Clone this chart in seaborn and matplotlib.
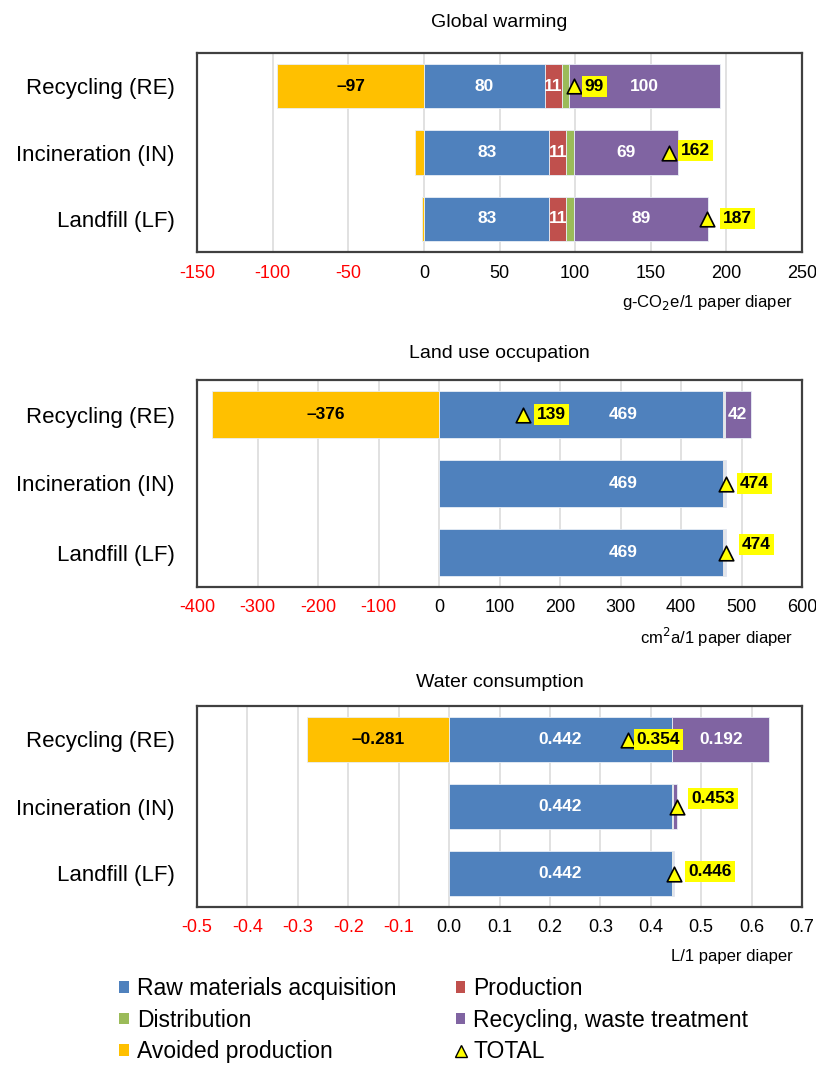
import numpy as np
import pandas as pd
import matplotlib
matplotlib.use("Agg")
import matplotlib.pyplot as plt
import seaborn as sns
from matplotlib.patches import Patch
from matplotlib.lines import Line2D

# ---------------------------------------------------------------- data
scenarios = ["Recycling (RE)", "Incineration (IN)", "Landfill (LF)"]
stages = ["Raw materials acquisition", "Production", "Distribution",
          "Recycling, waste treatment", "Avoided production"]

# Global warming (g-CO2e / 1 paper diaper)
gw_raw = [80, 83, 83]
gw_production = [11, 11, 11]
gw_distribution = [5, 5, 5]
gw_end_of_life = [100, 69, 89]
gw_avoided = [-97, -6, -1]
gw_total = [99, 162, 187]
gw_ticks = [-150, -100, -50, 0, 50, 100, 150, 200, 250]

# Land use occupation (cm2a / 1 paper diaper)
lu_raw = [469, 469, 469]
lu_production = [2, 2, 2]
lu_distribution = [2, 2, 2]
lu_end_of_life = [42, 1, 1]
lu_avoided = [-376, 0, 0]
lu_total = [139, 474, 474]
lu_ticks = [-400, -300, -200, -100, 0, 100, 200, 300, 400, 500, 600]

# Water consumption (L / 1 paper diaper)
w_raw = [0.442, 0.442, 0.442]
w_production = [0.001, 0.001, 0.001]
w_distribution = [0.000, 0.002, 0.001]
w_end_of_life = [0.192, 0.008, 0.002]
w_avoided = [-0.281, 0.0, 0.0]
w_total = [0.354, 0.453, 0.446]
w_ticks = [-0.5, -0.4, -0.3, -0.2, -0.1, 0.0, 0.1, 0.2, 0.3, 0.4, 0.5, 0.6, 0.7]

# ---------------------------------------------------------------- style
stage_colors = ["#4F81BD", "#C0504D", "#9BBB59", "#8064A2", "#FFC000"]
total_face = "#FFFF00"

sns.set_theme(style="white")
plt.rcParams["font.family"] = ["Liberation Sans", "DejaVu Sans"]
plt.rcParams["axes.unicode_minus"] = False
for key in ("text.color", "axes.labelcolor", "xtick.color", "ytick.color"):
    plt.rcParams[key] = "black"

fig = plt.figure(figsize=(8.16, 10.66), dpi=100)

W, H = 816, 1066
def add_axes_px(left, top, right, bottom):
    return fig.add_axes([left / W, 1 - bottom / H, (right - left) / W, (bottom - top) / H])

panels = [
    dict(title="Global warming", unit="g-CO$_2$e/1 paper diaper",
         values=[gw_raw, gw_production, gw_distribution, gw_end_of_life, gw_avoided],
         total=gw_total, ticks=gw_ticks, tick_fmt="{:.0f}", val_fmt="{:.0f}",
         box=(197, 53, 802, 252), title_pad=19,
         raw_label_pos=0.5,
         total_offsets=[(8, 0), (9, 2), (13, 0)]),
    dict(title="Land use occupation", unit="cm$^2$a/1 paper diaper",
         values=[lu_raw, lu_production, lu_distribution, lu_end_of_life, lu_avoided],
         total=lu_total, ticks=lu_ticks, tick_fmt="{:.0f}", val_fmt="{:.0f}",
         box=(197, 380, 802, 587), title_pad=16,
         raw_label_pos=0.65,
         total_offsets=[(11, 0), (11, 0), (13, 8)]),
    dict(title="Water consumption", unit="L/1 paper diaper",
         values=[w_raw, w_production, w_distribution, w_end_of_life, w_avoided],
         total=w_total, ticks=w_ticks, tick_fmt="{:.1f}", val_fmt="{:.3f}",
         box=(197, 706, 802, 907), title_pad=14,
         raw_label_pos=0.5,
         total_offsets=[(6, 0), (11, 8), (11, 2)]),
]

bar_width = 0.67
positions = np.arange(len(scenarios))
label_size = 12.5
box_pad = 0.18
pad_px = box_pad * label_size * 100 / 72

for p in panels:
    ax = add_axes_px(*p["box"])
    lo, hi = p["ticks"][0], p["ticks"][-1]
    span = hi - lo

    # stack positive stages left to right from zero, negative stage to the left of zero
    running = np.zeros(len(scenarios))
    for stage, color, vals in zip(stages, stage_colors, p["values"]):
        vals = np.asarray(vals, dtype=float)
        if stage == "Avoided production":
            lefts = np.zeros(len(scenarios))
        else:
            lefts = running.copy()
            running = running + vals
        df = pd.DataFrame({"scenario": scenarios, "stage": stage,
                           "value": vals, "left": lefts})
        df = df[df["value"] != 0]
        sns.barplot(data=df, x="value", y="scenario", order=scenarios, orient="y",
                    color=color, saturation=1, width=bar_width, errorbar=None,
                    left=df["left"].to_numpy(), edgecolor="#E8EEF6", linewidth=0.6,
                    ax=ax, zorder=2)

        # value labels inside segments wide enough to hold them
        for i, (v, l) in enumerate(zip(vals, lefts)):
            if abs(v) < 0.025 * span:
                continue
            if stage == "Avoided production":
                txt = "\u2013" + p["val_fmt"].format(abs(v))
                tcol = "black"
                xc = l + v / 2
            else:
                txt = p["val_fmt"].format(v)
                tcol = "white"
                frac = p["raw_label_pos"] if stage == stages[0] else 0.5
                xc = l + v * frac
            ax.text(xc, i, txt, ha="center", va="center", color=tcol,
                    fontsize=label_size, fontweight="bold", zorder=4)

    # totals
    sns.scatterplot(x=p["total"], y=positions, marker="^", s=110,
                    color=total_face, edgecolor="black", linewidth=1.2,
                    ax=ax, zorder=5, legend=False)
    for i, (t, (dx, dy)) in enumerate(zip(p["total"], p["total_offsets"])):
        ax.annotate(p["val_fmt"].format(t), xy=(t, i), xytext=(dx + pad_px, dy),
                    textcoords="offset pixels", ha="left", va="center",
                    fontsize=label_size, fontweight="bold", color="black", zorder=6,
                    bbox=dict(boxstyle=f"square,pad={box_pad}", fc=total_face, ec="none"))

    ax.set_xlim(lo, hi)
    ax.set_ylim(2.5, -0.5)
    ax.set_xticks(p["ticks"])
    ax.set_xticklabels([p["tick_fmt"].format(t) for t in p["ticks"]])
    for lab, t in zip(ax.get_xticklabels(), p["ticks"]):
        lab.set_color("#FF0000" if t < 0 else "black")
    ax.set_xlabel("")
    ax.set_ylabel("")
    ax.tick_params(axis="x", length=0, pad=9, labelsize=13)
    ax.tick_params(axis="y", length=0, pad=16, labelsize=16)
    ax.grid(axis="x", color="#D9D9D9", linewidth=1.1)
    ax.grid(axis="y", visible=False)
    ax.set_axisbelow(True)
    for sp in ax.spines.values():
        sp.set_visible(True)
        sp.set_color("#404040")
        sp.set_linewidth(1.6)
    ax.set_title(p["title"], fontsize=14, pad=p["title_pad"])
    ax.annotate(p["unit"], xy=(1, 0), xycoords="axes fraction",
                xytext=(-9, -50), textcoords="offset pixels",
                ha="right", va="center", fontsize=12)

# legend
handles = [Patch(facecolor=c, edgecolor="none") for c in stage_colors]
total_handle = Line2D([], [], linestyle="none", marker="^", markersize=9,
                      markerfacecolor=total_face, markeredgecolor="black",
                      markeredgewidth=1.0)
order = [0, 2, 4, 1, 3]
leg_handles = [handles[k] for k in order] + [total_handle]
leg_labels = [stages[k] for k in order] + ["TOTAL"]
fig.legend(leg_handles, leg_labels, ncol=2, loc="upper left",
           bbox_to_anchor=(119 / W, 1 - 977 / H), frameon=False,
           fontsize=16.5, handlelength=0.42, handleheight=0.42,
           handletextpad=0.35, columnspacing=2.6, labelspacing=0.38,
           borderpad=0, borderaxespad=0)

fig.savefig("out.png", dpi=100)
